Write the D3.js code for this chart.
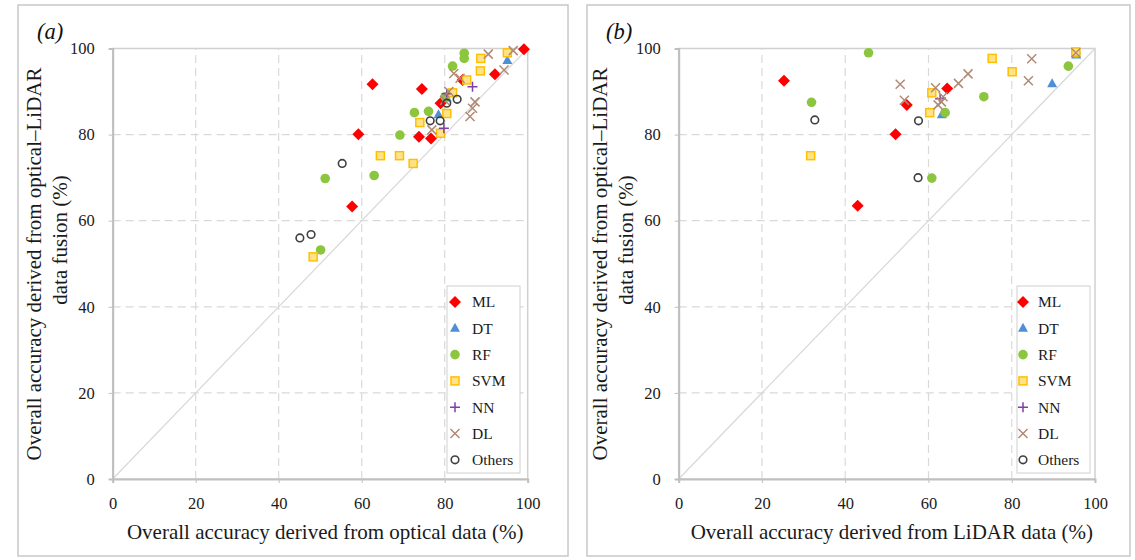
<!DOCTYPE html>
<html><head><meta charset="utf-8">
<script src="https://cdn.jsdelivr.net/npm/d3@7"></script>
<style>body{margin:0;background:#fff}svg{display:block}</style>
</head><body>
<script>
// ---- data (panel a: optical vs fusion; panel b: LiDAR vs fusion) ----
const categories = ["ML","DT","RF","SVM","NN","DL","Others"];
const tickValues = [0,20,40,60,80,100];

const a_ML = [[62.6,91.7],[74.5,90.6],[59.2,80.1],[73.8,79.5],[76.7,79.1],[84.3,92.7],[92.1,94.0],[99.1,99.8],[79.0,87.3],[57.7,63.3]];
const a_DT = [[95.1,97.2],[78.5,84.6],[80.5,88.5]];
const a_RF = [[84.7,98.9],[84.7,97.7],[81.9,95.9],[72.7,85.1],[76.1,85.4],[69.2,79.9],[80.1,88.8],[51.2,69.8],[63.0,70.5],[50.1,53.2]];
const a_SVM = [[88.7,97.7],[88.6,94.8],[95.1,99.0],[85.3,92.7],[81.9,89.7],[80.5,84.9],[74.0,82.8],[79.0,80.3],[64.5,75.1],[69.1,75.1],[72.4,73.3],[48.3,51.6]];
const a_NN = [[86.7,91.1],[79.8,81.5],[80.5,89.5]];
const a_DL = [[90.5,98.7],[94.3,95.0],[87.3,87.6],[86.7,86.1],[86.1,84.2],[83.7,93.1],[82.2,94.2],[76.9,81.1],[81.0,90.0],[80.0,88.0],[96.5,99.5]];
const a_Others = [[83.0,88.2],[80.5,87.3],[76.5,83.2],[78.9,83.2],[55.3,73.3],[47.8,56.8],[45.1,56.0]];

const b_ML = [[25.3,92.5],[54.8,86.9],[52.1,80.1],[64.5,90.7],[43.0,63.5]];
const b_DT = [[63.2,84.6],[89.7,91.8],[95.5,98.5]];
const b_RF = [[31.9,87.5],[45.6,99.0],[64.0,85.1],[73.3,88.8],[93.6,95.9],[95.4,98.9],[60.8,69.9]];
const b_SVM = [[31.7,75.1],[60.8,89.7],[60.3,85.1],[75.3,97.7],[80.1,94.6],[95.4,99.2]];
const b_NN = [[62.8,88.3]];
const b_DL = [[53.2,91.7],[54.2,88.0],[61.7,90.9],[63.5,88.8],[63.1,87.6],[62.3,86.9],[67.2,91.9],[69.5,94.1],[84.8,97.6],[84.0,92.5],[95.4,99.0]];
const b_Others = [[32.7,83.4],[57.6,83.2],[57.5,70.0]];

const panelA = {label:"(a)", xTitle:"Overall accuracy derived from optical data (%)", series:[a_ML,a_DT,a_RF,a_SVM,a_NN,a_DL,a_Others]};
const panelB = {label:"(b)", xTitle:"Overall accuracy derived from LiDAR data (%)", series:[b_ML,b_DT,b_RF,b_SVM,b_NN,b_DL,b_Others]};
const yTitle1 = "Overall accuracy derived from optical\u2013LiDAR";
const yTitle2 = "data fusion (%)";

// ---- styles ----
const style = {
  ML:{type:"diamond", fill:"#ff0000", stroke:"none"},
  DT:{type:"triangle", fill:"#4f8fd6", stroke:"none"},
  RF:{type:"circle", fill:"#8cc63e", stroke:"none"},
  SVM:{type:"square", fill:"#ffe38a", stroke:"#ffc000"},
  NN:{type:"plus", fill:"none", stroke:"#7e3fae"},
  DL:{type:"x", fill:"none", stroke:"#b08a74"},
  Others:{type:"ring", fill:"none", stroke:"#404040"}
};
const FONT = "'Liberation Serif','Times New Roman',serif";
const TXT = "#1a1a1a";

const svg = d3.select("body").append("svg").attr("width",1135).attr("height",560);

function drawMarker(g, cat, x, y){
  const s = style[cat];
  if(s.type==="diamond"){
    g.append("path").attr("d",`M${x},${y-6}L${x+6},${y}L${x},${y+6}L${x-6},${y}Z`).attr("fill",s.fill);
  } else if(s.type==="triangle"){
    g.append("path").attr("d",`M${x},${y-5.5}L${x+5},${y+3.5}L${x-5},${y+3.5}Z`).attr("fill",s.fill);
  } else if(s.type==="circle"){
    g.append("circle").attr("cx",x).attr("cy",y).attr("r",4.8).attr("fill",s.fill);
  } else if(s.type==="square"){
    g.append("rect").attr("x",x-4).attr("y",y-4).attr("width",8).attr("height",8).attr("fill",s.fill).attr("stroke",s.stroke).attr("stroke-width",1.5);
  } else if(s.type==="plus"){
    g.append("path").attr("d",`M${x-5},${y}H${x+5}M${x},${y-5}V${y+5}`).attr("stroke",s.stroke).attr("stroke-width",1.5);
  } else if(s.type==="x"){
    g.append("path").attr("d",`M${x-4.5},${y-4.5}L${x+4.5},${y+4.5}M${x-4.5},${y+4.5}L${x+4.5},${y-4.5}`).attr("stroke",s.stroke).attr("stroke-width",1.5);
  } else {
    g.append("circle").attr("cx",x).attr("cy",y).attr("r",3.8).attr("fill","none").attr("stroke",s.stroke).attr("stroke-width",1.6);
  }
}

function drawPanel(p, frame, plot, yTitleX, legend){
  // outer frame
  svg.append("rect").attr("x",frame[0]).attr("y",frame[1]).attr("width",frame[2]).attr("height",frame[3])
     .attr("fill","none").attr("stroke","#c8c8c8").attr("stroke-width",1.5);
  const x = d3.scaleLinear().domain([0,100]).range([plot.x0, plot.x1]);
  const y = d3.scaleLinear().domain([0,100]).range([plot.y0, plot.y1]);
  const g = svg.append("g");
  // plot area border
  g.append("rect").attr("x",plot.x0).attr("y",plot.y1).attr("width",plot.x1-plot.x0).attr("height",plot.y0-plot.y1)
    .attr("fill","none").attr("stroke","#d0d0d0").attr("stroke-width",1.5);
  // gridlines
  const inner = tickValues.slice(1,-1);
  g.selectAll(".gx").data(inner).join("line").attr("x1",d=>x(d)).attr("x2",d=>x(d)).attr("y1",plot.y0).attr("y2",plot.y1)
    .attr("stroke","#d9d9d9").attr("stroke-width",1.2).attr("stroke-dasharray","8,5");
  g.selectAll(".gy").data(inner).join("line").attr("y1",d=>y(d)).attr("y2",d=>y(d)).attr("x1",plot.x0).attr("x2",plot.x1)
    .attr("stroke","#d9d9d9").attr("stroke-width",1.2).attr("stroke-dasharray","8,5");
  // 1:1 line
  g.append("line").attr("x1",x(0)).attr("y1",y(0)).attr("x2",x(100)).attr("y2",y(100)).attr("stroke","#d9d9d9").attr("stroke-width",1.3);
  // axes
  const xAxis = d3.axisBottom(x).tickValues(tickValues).tickSize(4).tickPadding(14);
  const yAxis = d3.axisLeft(y).tickValues(tickValues).tickSize(4).tickPadding(14);
  const gx = g.append("g").attr("transform",`translate(0,${plot.y0})`).call(xAxis);
  const gy = g.append("g").attr("transform",`translate(${plot.x0},0)`).call(yAxis);
  [gx,gy].forEach(a=>{
    a.select(".domain").attr("stroke","#bfbfbf").attr("stroke-width",2);
    a.selectAll(".tick line").attr("stroke","#bfbfbf");
    a.selectAll("text").attr("font-family",FONT).attr("font-size",16.5).attr("fill",TXT);
  });
  // points
  categories.forEach((c,i)=>{
    p.series[i].forEach(d=>drawMarker(g,c,x(d[0]),y(d[1])));
  });
  // legend
  const lg = g.append("g");
  lg.append("rect").attr("x",legend.x).attr("y",286).attr("width",73).attr("height",187).attr("fill","#fff").attr("stroke","#d0d0d0");
  categories.forEach((c,i)=>{
    const ly = 302 + i*26.3;
    drawMarker(lg,c,legend.x+legend.m,ly);
    lg.append("text").attr("x",legend.x+legend.t).attr("y",ly).attr("dy","0.35em").attr("font-family",FONT).attr("font-size",15.5).attr("fill",TXT).text(c);
  });
  // titles
  svg.append("text").attr("x",(plot.x0+plot.x1)/2+5).attr("y",532).attr("dy","0.35em").attr("text-anchor","middle")
    .attr("font-family",FONT).attr("font-size",21).attr("fill",TXT).text(p.xTitle);
  svg.append("text").attr("transform",`translate(${yTitleX},264) rotate(-90)`).attr("dy","0.35em").attr("text-anchor","middle")
    .attr("font-family",FONT).attr("font-size",21).attr("fill",TXT).text(yTitle1);
  svg.append("text").attr("transform",`translate(${yTitleX+26},240) rotate(-90)`).attr("dy","0.35em").attr("text-anchor","middle")
    .attr("font-family",FONT).attr("font-size",21).attr("fill",TXT).text(yTitle2);
  svg.append("text").attr("x",frame[0]+19).attr("y",39).attr("font-family",FONT).attr("font-style","italic").attr("font-size",22.5).attr("fill","#111").text(p.label);
}

drawPanel(panelA, [18,5,550,551], {x0:112.7,x1:527.7,y0:479,y1:48.5}, 34, {x:447,m:8,t:25});
drawPanel(panelB, [587,5,543,551], {x0:678.7,x1:1095,y0:479,y1:48.5}, 600, {x:1017,m:6,t:21});
</script>
</body></html>
